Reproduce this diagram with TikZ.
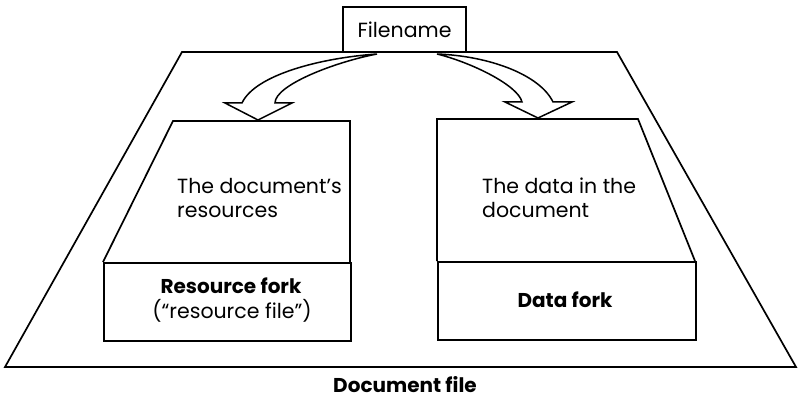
\documentclass[tikz,border=0pt]{standalone}
\usepackage{fontspec}
\setmainfont{Poppins}
\begin{document}
\begin{tikzpicture}[x=1pt,y=-1pt,line join=miter,
  outline/.style={draw=black,line width=1.7pt},
  body/.style={font=\fontsize{20.5}{24}\selectfont,inner sep=0pt},
  forklabel/.style={font=\fontsize{20}{24}\selectfont\bfseries,inner sep=0pt},
  hollowarrow/.style={draw=black,line width=1.5pt,fill=white,line join=miter}]
\useasboundingbox (0,0) rectangle (799,401);

% the document file as a whole
\draw[outline] (182,52) -- (617,52) -- (796,367) -- (5,367) -- cycle;
\node[forklabel] (docfile) at (405,385) {Document file};

% filename tab
\node[outline,fill=white,minimum width=123pt,minimum height=45pt,body] (fname) at (404.5,29.5) {Filename};

% resource fork
\draw[outline] (103,262) -- (173,121) -- (350,121) -- (350,262);
\node[outline,minimum width=247pt,minimum height=78pt,anchor=north west,inner sep=0pt] (rfork) at (103,262) {};
\node[body,anchor=base west] (rtext1) at (177,193) {The document’s};
\node[body,anchor=base west] (rtext2) at (177,217) {resources};
\node[forklabel,anchor=base] (rlabel) at (231,293) {Resource fork};
\node[body,anchor=base] (rlabel2) at (232,318) {(“resource file”)};

% data fork
\draw[outline] (437,261) -- (437,119) -- (638,119) -- (695,261);
\node[outline,minimum width=258pt,minimum height=78pt,anchor=north west,inner sep=0pt] (dfork) at (437,261) {};
\node[body,anchor=base west] (dtext1) at (482,193) {The data in the};
\node[body,anchor=base west] (dtext2) at (482,217) {document};
\node[forklabel,anchor=base] (dlabel) at (565,307) {Data fork};

% hollow arrows from the filename into each fork
\coordinate (ltail) at (377,54);
\coordinate (rtail) at (437,54);
\draw[hollowarrow] (ltail) .. controls (320,58) and (255,75) .. (242,103)
  -- (225,103) -- (258,120) -- (292,103) -- (275,103)
  .. controls (275,85) and (335,62) .. (ltail) -- cycle;
\draw[hollowarrow] (rtail) .. controls (490,56) and (540,75) .. (553,102)
  -- (572,102) -- (538,118) -- (505,102) -- (522,102)
  .. controls (518,85) and (470,62) .. (rtail) -- cycle;
\end{tikzpicture}
\end{document}
